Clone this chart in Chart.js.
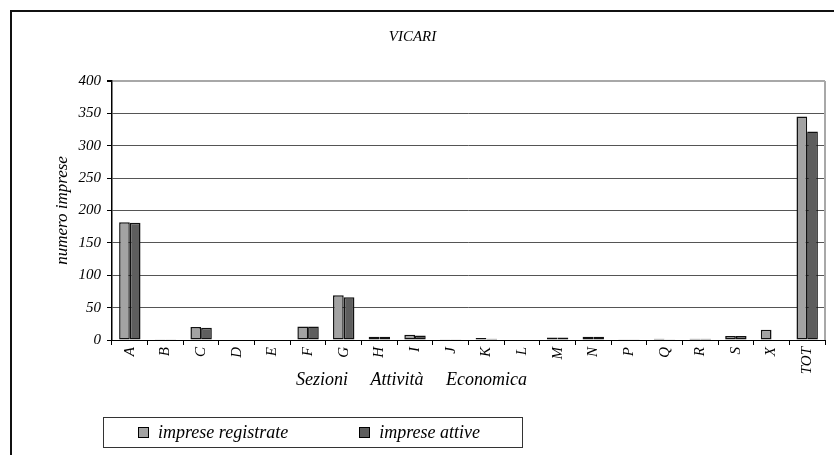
<!DOCTYPE html>
<html>
<head>
<meta charset="utf-8">
<script src="https://cdn.jsdelivr.net/npm/chart.js@4"></script>
<style>
  body { margin: 0; background: #fff; }
  #wrap { position: relative; width: 834px; height: 455px; overflow: hidden; }
  #cornice { position: absolute; left: 10px; top: 10px; width: 900px; height: 500px; border: 2px solid #111; }
  #grafico { position: absolute; left: 0; top: 0; }
  #legenda {
    position: absolute; left: 103px; top: 417px; width: 384px; height: 29px;
    border: 1px solid #333; padding-left: 34px; display: flex; align-items: center;
  }
  .voce { display: flex; align-items: center; flex-shrink: 0; white-space: nowrap;
          font: italic 18px "Liberation Serif", "Times New Roman", serif; margin-right: 71px; }
  .marcatore { width: 9px; height: 9px; border: 1px solid #000; margin-right: 9px; flex-shrink: 0; }
</style>
</head>
<body>
<div id="wrap">
  <div id="cornice"></div>
  <canvas id="grafico" width="834" height="455"></canvas>
  <div id="legenda"></div>
</div>
<script>
const categorie = ['A', 'B', 'C', 'D', 'E', 'F', 'G', 'H', 'I', 'J', 'K', 'L', 'M', 'N', 'P', 'Q', 'R', 'S', 'X', 'TOT'];
const impreseRegistrate = [182, 1, 20, 0, 0, 21, 69, 5, 8, 1, 3, 0, 4, 5, 1, 2, 2, 6, 16, 345];
const impreseAttive     = [181, 1, 19, 0, 0, 21, 66, 5, 7, 1, 2, 0, 4, 5, 1, 1, 2, 6, 0, 322];
const titoloX = 'Sezioni     Attività     Economica';

const serif = '"Liberation Serif", "Times New Roman", serif';
Chart.defaults.font.family = serif;
Chart.defaults.font.style = 'italic';
Chart.defaults.color = '#000';

// legenda html con il riquadro, come nel foglio originale
const htmlLegend = {
    id: 'htmlLegend',
    afterUpdate(chart) {
        const box = document.getElementById('legenda');
        box.innerHTML = '';
        chart.data.datasets.forEach(ds => {
            const voce = document.createElement('span');
            voce.className = 'voce';
            const m = document.createElement('span');
            m.className = 'marcatore';
            m.style.background = ds.backgroundColor;
            const t = document.createElement('span');
            t.textContent = ds.label;
            voce.append(m, t);
            box.appendChild(voce);
        });
    }
};

// bordo destro dell'area del grafico + titolo asse x
const extra = {
    id: 'extra',
    afterDraw(chart) {
        const { ctx, chartArea: a } = chart;
        ctx.save();
        ctx.strokeStyle = '#a8a8a8';
        ctx.lineWidth = 2;
        ctx.beginPath();
        ctx.moveTo(a.right, a.top);
        ctx.lineTo(a.right, a.bottom);
        ctx.stroke();
        ctx.font = 'italic 18px ' + serif;
        ctx.fillStyle = '#000';
        ctx.textAlign = 'center';
        ctx.textBaseline = 'middle';
        ctx.fillText(titoloX, a.left + a.width * 0.42, a.bottom + 40);
        ctx.restore();
    }
};

new Chart(document.getElementById('grafico'), {
    type: 'bar',
    data: {
        labels: categorie,
        datasets: [{
            label: 'imprese registrate',
            data: impreseRegistrate,
            backgroundColor: '#a3a3a3',
            borderColor: '#111',
            borderWidth: 1.5,
            borderSkipped: false,
        }, {
            label: 'imprese attive',
            data: impreseAttive,
            backgroundColor: '#5e5e5e',
            borderColor: '#111',
            borderWidth: 1.5,
            borderSkipped: false,
        }]
    },
    plugins: [htmlLegend, extra],
    options: {
        responsive: false,
        animation: false,
        devicePixelRatio: 1,
        layout: { padding: { top: 28, right: 9, left: 0, bottom: 0 } },
        datasets: { bar: { categoryPercentage: 0.6, barPercentage: 1.0 } },
        plugins: {
            legend: { display: false },
            tooltip: { enabled: false },
            title: {
                display: true,
                text: 'VICARI',
                font: { size: 15, style: 'italic', weight: 'normal' },
                padding: { top: 0, bottom: 35 },
            },
        },
        scales: {
            x: {
                afterFit: s => { s.height = 115; },
                grid: { drawOnChartArea: false, drawTicks: true, tickLength: 5, tickColor: '#000', offset: true },
                border: { color: '#000', width: 1 },
                ticks: { minRotation: 90, maxRotation: 90, autoSkip: false, padding: 2, font: { size: 15 } },
            },
            y: {
                min: 0,
                max: 400,
                afterFit: s => { s.width = 112; },
                ticks: { stepSize: 50, padding: 6, font: { size: 15 } },
                grid: {
                    color: c => c.tick.value === 400 ? '#a8a8a8' : '#555',
                    lineWidth: c => c.tick.value === 400 ? 2 : 1,
                    tickColor: '#000',
                    tickLength: 5,
                },
                border: { color: '#000', width: 1.5 },
                title: {
                    display: true,
                    text: 'numero imprese',
                    font: { size: 17, style: 'italic' },
                    padding: { top: 52, bottom: 0 },
                },
            }
        },
    }
});
</script>
</body>
</html>
